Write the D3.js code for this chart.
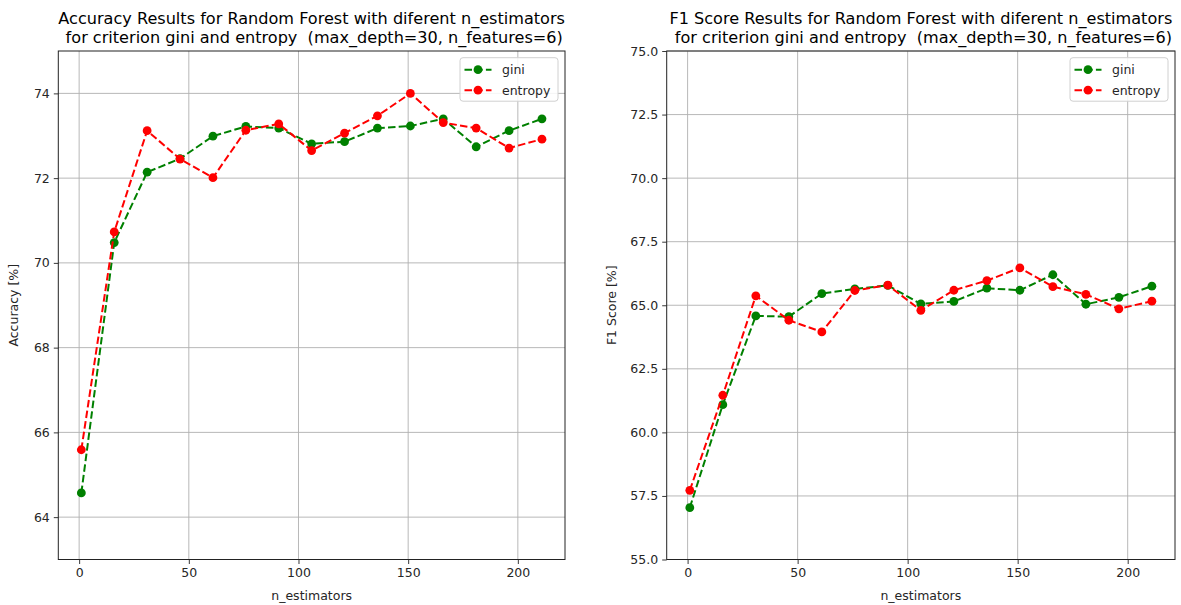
<!DOCTYPE html>
<html>
<head>
<meta charset="utf-8">
<script src="https://cdn.jsdelivr.net/npm/d3@7"></script>
<style>
  html, body { margin: 0; padding: 0; background: #fff; }
  svg { display: block; font-family: "DejaVu Sans", sans-serif; }
</style>
</head>
<body>
<svg id="chart" width="1181" height="605"></svg>
<script>
// ---- Data ----
const nEstimators = [1, 16, 31, 46, 61, 76, 91, 106, 121, 136, 151, 166, 181, 196, 211];

const accuracyGini    = [64.57, 70.48, 72.14, 72.46, 72.99, 73.22, 73.18, 72.81, 72.86, 73.18, 73.23, 73.40, 72.74, 73.12, 73.40];
const accuracyEntropy = [65.59, 70.73, 73.12, 72.45, 72.01, 73.13, 73.28, 72.65, 73.06, 73.47, 74.00, 73.31, 73.18, 72.71, 72.92];

const f1Gini    = [57.04, 61.09, 64.58, 64.55, 65.46, 65.64, 65.78, 65.05, 65.15, 65.67, 65.59, 66.20, 65.04, 65.31, 65.75];
const f1Entropy = [57.72, 61.46, 65.37, 64.41, 63.95, 65.58, 65.79, 64.80, 65.59, 65.97, 66.47, 65.73, 65.43, 64.86, 65.16];

const xTicks = [0, 50, 100, 150, 200];
const accTicks = [64, 66, 68, 70, 72, 74];
const f1Ticks = [55.0, 57.5, 60.0, 62.5, 65.0, 67.5, 70.0, 72.5, 75.0];

const seriesNames = ["gini", "entropy"];
const seriesColors = ["#008000", "#ff0000"];

const accTitle = ["Accuracy Results for Random Forest with diferent n_estimators",
                  " for criterion gini and entropy  (max_depth=30, n_features=6)"];
const f1Title  = ["F1 Score Results for Random Forest with diferent n_estimators",
                  " for criterion gini and entropy  (max_depth=30, n_features=6)"];

// ---- Drawing ----
const svg = d3.select("#chart");
const textColor = "#262626";

function drawPanel(opt) {
  const {x0, x1, y0, y1, yDomain, yTicks, yFmt, title, ylabel, series} = opt;
  const g = svg.append("g");

  const x = d3.scaleLinear().domain([-9.5, 221.5]).range([x0, x1]);
  const y = d3.scaleLinear().domain(yDomain).range([y1, y0]);

  // grid
  g.append("g").selectAll("line.vx").data(xTicks).join("line")
    .attr("x1", d => x(d)).attr("x2", d => x(d))
    .attr("y1", y0).attr("y2", y1)
    .attr("stroke", "#b0b0b0").attr("stroke-width", 0.9);
  g.append("g").selectAll("line.hy").data(yTicks).join("line")
    .attr("x1", x0).attr("x2", x1)
    .attr("y1", d => y(d)).attr("y2", d => y(d))
    .attr("stroke", "#b0b0b0").attr("stroke-width", 0.9);

  // axes
  const xAxis = d3.axisBottom(x).tickValues(xTicks).tickSize(4.5).tickPadding(4).tickFormat(d3.format("d"));
  const yAxis = d3.axisLeft(y).tickValues(yTicks).tickSize(4.5).tickPadding(4).tickFormat(yFmt);

  const gx = g.append("g").attr("transform", `translate(0,${y1})`).call(xAxis);
  const gy = g.append("g").attr("transform", `translate(${x0},0)`).call(yAxis);
  [gx, gy].forEach(a => {
    a.select(".domain").remove();
    a.selectAll(".tick line").attr("stroke", "#222").attr("stroke-width", 0.9);
    a.selectAll(".tick text").attr("fill", textColor)
      .style("font-family", "DejaVu Sans").style("font-size", "12.5px");
  });

  // spines
  g.append("rect").attr("x", x0).attr("y", y0)
    .attr("width", x1 - x0).attr("height", y1 - y0)
    .attr("fill", "none").attr("stroke", "#222").attr("stroke-width", 1);

  // data
  const line = d3.line().x((d, i) => x(nEstimators[i])).y(d => y(d));
  series.forEach((vals, si) => {
    const c = seriesColors[si];
    g.append("path").datum(vals)
      .attr("d", line).attr("fill", "none")
      .attr("stroke", c).attr("stroke-width", 2)
      .attr("stroke-dasharray", "7.5,3.2");
    g.append("g").selectAll("circle").data(vals).join("circle")
      .attr("cx", (d, i) => x(nEstimators[i])).attr("cy", d => y(d))
      .attr("r", 4.4).attr("fill", c);
  });

  // title
  const cx = (x0 + x1) / 2;
  title.forEach((t, i) => {
    g.append("text").attr("x", cx).attr("y", 24 + i * 19)
      .attr("text-anchor", "middle").attr("fill", "#000")
      .style("font-size", "16.1px").style("white-space", "pre")
      .attr("xml:space", "preserve")
      .text(t);
  });

  // axis labels
  g.append("text").attr("x", cx).attr("y", y1 + 40)
    .attr("text-anchor", "middle").attr("fill", textColor)
    .style("font-size", "12.5px").text("n_estimators");
  g.append("text")
    .attr("transform", `translate(${x0 - opt.ylabelOff},${(y0 + y1) / 2}) rotate(-90)`)
    .attr("text-anchor", "middle").attr("fill", textColor)
    .style("font-size", "12.5px").text(ylabel);

  // legend
  const lw = 98, lh = 43.5;
  const lx = x1 - 7 - lw, ly = y0 + 6.7;
  const lg = g.append("g");
  lg.append("rect").attr("x", lx).attr("y", ly).attr("width", lw).attr("height", lh)
    .attr("rx", 3).attr("fill", "#fff").attr("fill-opacity", 0.85)
    .attr("stroke", "#d0d0d0").attr("stroke-width", 1);
  seriesNames.forEach((name, i) => {
    const ry = ly + 12 + i * 20.5;
    lg.append("line").attr("x1", lx + 4.5).attr("x2", lx + 31.5)
      .attr("y1", ry).attr("y2", ry)
      .attr("stroke", seriesColors[i]).attr("stroke-width", 2)
      .attr("stroke-dasharray", "7.5,3.2");
    lg.append("circle").attr("cx", lx + 18).attr("cy", ry).attr("r", 4.4).attr("fill", seriesColors[i]);
    lg.append("text").attr("x", lx + 42).attr("y", ry).attr("dy", "0.35em")
      .attr("fill", textColor).style("font-size", "12.5px").text(name);
  });
}

drawPanel({
  x0: 58.3, x1: 565, y0: 51, y1: 559.5,
  yDomain: [63, 75], yTicks: accTicks, yFmt: d3.format("d"),
  title: accTitle, ylabel: "Accuracy [%]", ylabelOff: 40,
  series: [accuracyGini, accuracyEntropy]
});

drawPanel({
  x0: 666.7, x1: 1175, y0: 51, y1: 559.5,
  yDomain: [55, 75], yTicks: f1Ticks, yFmt: d3.format(".1f"),
  title: f1Title, ylabel: "F1 Score [%]", ylabelOff: 51,
  series: [f1Gini, f1Entropy]
});
</script>
</body>
</html>
